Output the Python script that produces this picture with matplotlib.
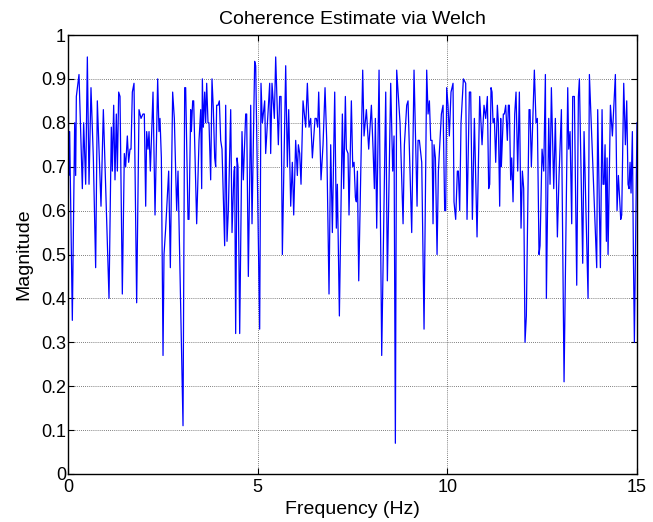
import matplotlib
matplotlib.use("Agg")
import matplotlib.pyplot as plt
import numpy as np

# Coherence estimate (peaks and troughs), by segment
freq_a = [0.00, 0.02, 0.044, 0.114, 0.176, 0.202, 0.220, 0.290, 0.378, 0.413,
          0.466, 0.510, 0.554, 0.606, 0.668, 0.729, 0.773, 0.870, 0.932, 1.081,
          1.142, 1.169, 1.204, 1.239, 1.274, 1.301, 1.336, 1.371, 1.432, 1.485,
          1.520, 1.564, 1.599, 1.635, 1.661, 1.696, 1.740, 1.810, 1.872, 1.925,
          1.977, 2.012, 2.048, 2.074, 2.109, 2.136, 2.171, 2.241, 2.294, 2.364]
coh_a = [0.99, 0.68, 0.78, 0.35, 0.80, 0.68, 0.86, 0.91, 0.65, 0.80,
         0.66, 0.95, 0.66, 0.88, 0.72, 0.47, 0.85, 0.61, 0.83, 0.40,
         0.79, 0.69, 0.84, 0.67, 0.82, 0.69, 0.87, 0.86, 0.41, 0.73,
         0.70, 0.77, 0.71, 0.74, 0.74, 0.87, 0.89, 0.39, 0.83, 0.81,
         0.82, 0.82, 0.61, 0.78, 0.74, 0.78, 0.69, 0.87, 0.59, 0.90]

freq_b = [2.399, 2.425, 2.461, 2.505, 2.531, 2.575, 2.654, 2.698, 2.759, 2.803,
          2.865, 2.900, 3.032, 3.076, 3.102, 3.164, 3.190, 3.234, 3.252, 3.287,
          3.313, 3.392, 3.454, 3.498, 3.524, 3.542, 3.568, 3.603, 3.629, 3.656,
          3.691, 3.717, 3.761, 3.796, 3.832, 3.867, 3.893, 3.919, 3.955, 3.990,
          4.025, 4.060, 4.130, 4.157, 4.192, 4.227, 4.289, 4.324, 4.376, 4.394,
          4.420, 4.456, 4.482, 4.526, 4.587, 4.622, 4.684, 4.710, 4.754, 4.816,
          4.851]
coh_b = [0.78, 0.81, 0.72, 0.27, 0.50, 0.56, 0.69, 0.47, 0.87, 0.81,
         0.60, 0.69, 0.11, 0.88, 0.88, 0.58, 0.58, 0.83, 0.78, 0.85,
         0.85, 0.57, 0.76, 0.83, 0.65, 0.90, 0.79, 0.87, 0.80, 0.89,
         0.80, 0.80, 0.67, 0.90, 0.83, 0.72, 0.70, 0.84, 0.84, 0.85,
         0.76, 0.74, 0.52, 0.84, 0.53, 0.60, 0.83, 0.55, 0.69, 0.70,
         0.32, 0.72, 0.70, 0.32, 0.78, 0.67, 0.82, 0.82, 0.45, 0.84,
         0.57]

freq_c = [4.921, 4.948, 5.053, 5.088, 5.124, 5.185, 5.211, 5.317, 5.343, 5.378,
          5.440, 5.475, 5.545, 5.580, 5.616, 5.651, 5.695, 5.739, 5.783, 5.818,
          5.871, 5.914, 5.950, 6.002, 6.046, 6.073, 6.108, 6.143, 6.196, 6.266,
          6.310, 6.354, 6.398, 6.442, 6.512, 6.547, 6.582, 6.609, 6.670, 6.723,
          6.776, 6.820, 6.881, 6.925, 6.969, 7.031, 7.074, 7.101, 7.154, 7.233,
          7.268, 7.312, 7.338, 7.382, 7.408]
coh_c = [0.94, 0.93, 0.33, 0.89, 0.80, 0.85, 0.73, 0.89, 0.73, 0.89,
         0.81, 0.95, 0.75, 0.86, 0.86, 0.50, 0.72, 0.93, 0.70, 0.83,
         0.61, 0.71, 0.59, 0.76, 0.68, 0.75, 0.73, 0.66, 0.85, 0.79,
         0.89, 0.79, 0.81, 0.72, 0.81, 0.81, 0.79, 0.87, 0.67, 0.75,
         0.88, 0.76, 0.41, 0.75, 0.55, 0.87, 0.56, 0.66, 0.36, 0.82,
         0.65, 0.86, 0.74, 0.73, 0.59]

freq_d = [7.470, 7.506, 7.541, 7.576, 7.602, 7.629, 7.664, 7.769, 7.804, 7.866,
          7.927, 7.998, 8.042, 8.077, 8.103, 8.138, 8.200, 8.270, 8.376, 8.419,
          8.507, 8.560, 8.595, 8.630, 8.665, 8.753, 8.833, 8.868, 8.929, 8.964,
          9.061, 9.122, 9.202, 9.228, 9.263, 9.325, 9.386, 9.456, 9.492, 9.527,
          9.562, 9.597, 9.623, 9.650, 9.685, 9.729, 9.764, 9.843, 9.887]
coh_d = [0.85, 0.70, 0.71, 0.63, 0.62, 0.69, 0.44, 0.92, 0.77, 0.83,
         0.74, 0.84, 0.74, 0.65, 0.81, 0.56, 0.92, 0.27, 0.87, 0.44,
         0.89, 0.69, 0.77, 0.07, 0.92, 0.80, 0.57, 0.75, 0.84, 0.85,
         0.55, 0.92, 0.61, 0.76, 0.76, 0.71, 0.33, 0.92, 0.82, 0.85,
         0.76, 0.76, 0.57, 0.75, 0.72, 0.50, 0.69, 0.82, 0.84]

freq_e = [9.930, 9.957, 9.983, 10.018, 10.053, 10.097, 10.150, 10.176, 10.220, 10.264,
          10.291, 10.326, 10.361, 10.423, 10.484, 10.519, 10.581, 10.616, 10.660, 10.713,
          10.783, 10.853, 10.915, 10.967, 11.011, 11.055, 11.090, 11.117, 11.152, 11.178,
          11.205, 11.240, 11.275, 11.319, 11.345, 11.380, 11.407, 11.424, 11.477, 11.503,
          11.539, 11.582, 11.609, 11.635, 11.670, 11.697, 11.732, 11.776, 11.811, 11.855,
          11.899, 11.943, 11.978, 12.013, 12.048, 12.083, 12.154, 12.180, 12.215, 12.294,
          12.338, 12.373, 12.417]
coh_e = [0.60, 0.60, 0.88, 0.84, 0.77, 0.87, 0.89, 0.62, 0.58, 0.69,
         0.69, 0.60, 0.80, 0.90, 0.89, 0.58, 0.87, 0.87, 0.58, 0.81,
         0.54, 0.86, 0.75, 0.84, 0.81, 0.86, 0.65, 0.66, 0.88, 0.87,
         0.80, 0.81, 0.71, 0.84, 0.80, 0.61, 0.81, 0.70, 0.82, 0.82,
         0.84, 0.76, 0.84, 0.84, 0.67, 0.72, 0.62, 0.82, 0.87, 0.69,
         0.87, 0.56, 0.69, 0.65, 0.30, 0.36, 0.83, 0.83, 0.70, 0.92,
         0.80, 0.81, 0.50]

freq_f = [12.444, 12.497, 12.541, 12.585, 12.611, 12.673, 12.708, 12.743, 12.805, 12.848,
          12.901, 12.945, 13.007, 13.077, 13.174, 13.200, 13.235, 13.279, 13.305, 13.349,
          13.411, 13.455, 13.481, 13.569, 13.604, 13.710, 13.745, 13.938, 13.964, 14.035,
          14.079, 14.105, 14.131, 14.158, 14.193, 14.211, 14.237, 14.299, 14.351, 14.430,
          14.474, 14.509, 14.571, 14.597, 14.650, 14.694, 14.729, 14.764, 14.790, 14.817,
          14.843, 14.878, 14.905, 14.931, 15.000]
coh_f = [0.52, 0.74, 0.69, 0.91, 0.40, 0.81, 0.66, 0.88, 0.65, 0.81,
         0.54, 0.68, 0.83, 0.21, 0.88, 0.74, 0.78, 0.57, 0.86, 0.86,
         0.43, 0.86, 0.90, 0.48, 0.78, 0.40, 0.91, 0.47, 0.83, 0.47,
         0.83, 0.66, 0.66, 0.75, 0.53, 0.72, 0.50, 0.84, 0.77, 0.91,
         0.60, 0.68, 0.58, 0.59, 0.89, 0.75, 0.85, 0.66, 0.65, 0.71,
         0.64, 0.78, 0.50, 0.30, 0.80]

freq = np.concatenate([freq_a, freq_b, freq_c, freq_d, freq_e, freq_f])
coh = np.concatenate([coh_a, coh_b, coh_c, coh_d, coh_e, coh_f])

x_ticks = [0, 5, 10, 15]
y_ticks = [0, 0.1, 0.2, 0.3, 0.4, 0.5, 0.6, 0.7, 0.8, 0.9, 1]
y_tick_labels = ['0', '0.1', '0.2', '0.3', '0.4', '0.5', '0.6', '0.7', '0.8', '0.9', '1']

plt.rcParams['font.family'] = ['Liberation Sans', 'DejaVu Sans']

fig = plt.figure(figsize=(6.53, 5.22), dpi=100)
ax = fig.add_axes([68 / 653, 1 - 474 / 522, 569 / 653, 439 / 522])

ax.plot(freq, coh, color=(0, 0, 1), linewidth=0.9)

ax.set_xlim(0, 15)
ax.set_ylim(0, 1)
ax.set_xticks(x_ticks)
ax.set_yticks(y_ticks)
ax.set_yticklabels(y_tick_labels)
ax.tick_params(direction='in', top=True, right=True, length=4, width=0.8,
               labelsize=13)
ax.tick_params(axis='x', pad=3.5)
ax.tick_params(axis='y', pad=1.5)
ax.grid(True, linestyle=(0, (1, 1.5)), color='#555555', linewidth=0.6)
for s in ax.spines.values():
    s.set_linewidth(1.0)

ax.set_title('Coherence Estimate via Welch', fontsize=14, pad=8)
ax.set_xlabel('Frequency (Hz)', fontsize=14, labelpad=4)
ax.set_ylabel('Magnitude', fontsize=14, labelpad=6)

fig.savefig('out.png', dpi=100)
